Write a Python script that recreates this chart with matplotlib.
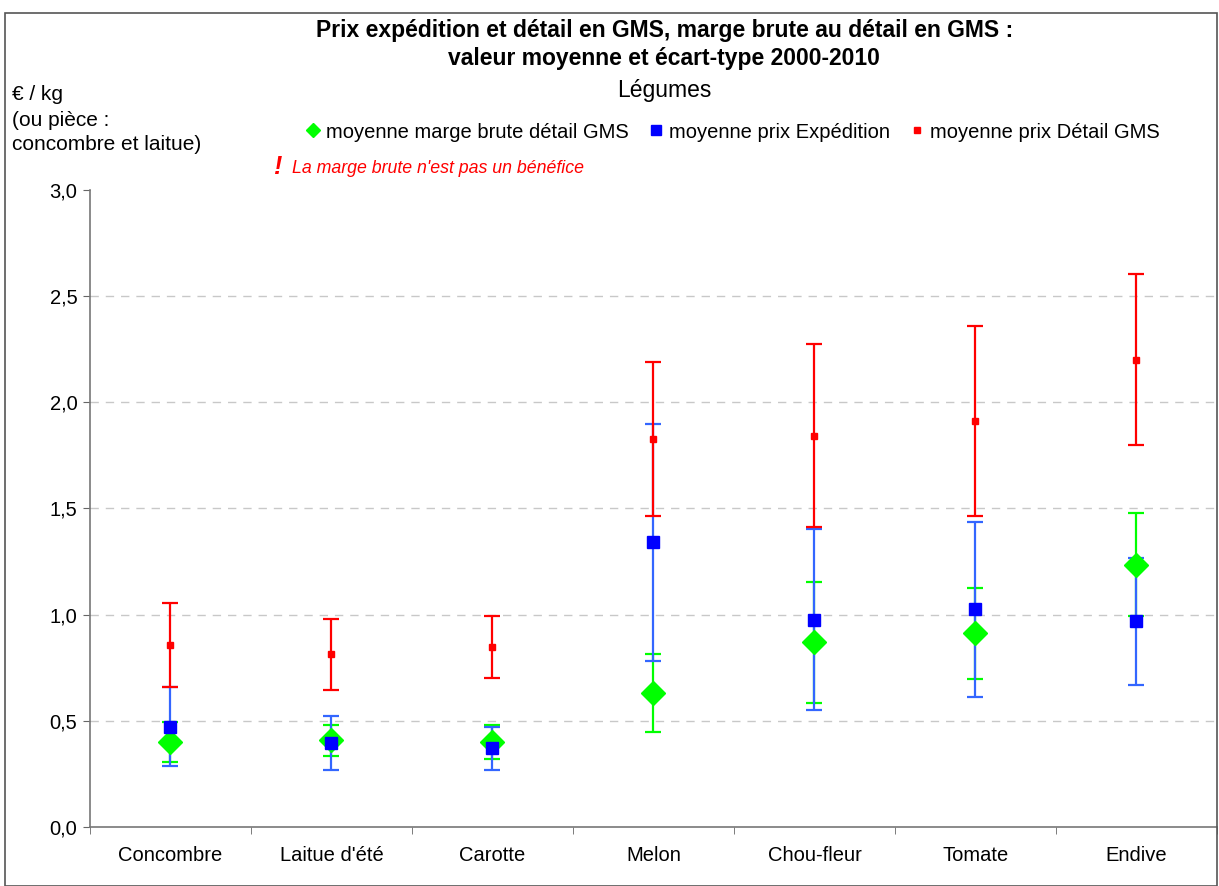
import matplotlib.pyplot as plt
from matplotlib.lines import Line2D
from matplotlib.patches import Rectangle
from matplotlib.ticker import FuncFormatter

plt.rcParams["font.family"] = ["Liberation Sans", "DejaVu Sans"]

legumes = ["Concombre", "Laitue d'été", "Carotte", "Melon", "Chou-fleur", "Tomate", "Endive"]

# moyenne et écart-type 2000-2010 (€/kg ou pièce)
detail_moy = [0.858, 0.813, 0.847, 1.827, 1.843, 1.912, 2.201]
detail_et = [0.197, 0.168, 0.145, 0.362, 0.431, 0.448, 0.401]
exped_moy = [0.473, 0.396, 0.370, 1.342, 0.975, 1.025, 0.968]
exped_et = [0.187, 0.128, 0.103, 0.558, 0.426, 0.413, 0.301]
marge_moy = [0.400, 0.408, 0.400, 0.629, 0.869, 0.912, 1.236]
marge_et = [0.095, 0.072, 0.080, 0.184, 0.285, 0.213, 0.243]

yticks = [0.0, 0.5, 1.0, 1.5, 2.0, 2.5, 3.0]

RED = "#ff0000"
BLUE = "#0000ff"
BLUE_BAR = "#3366ff"
GREEN = "#00ff00"

fig = plt.figure(figsize=(12.19, 8.86), dpi=100)
fig.patches.append(Rectangle((0.004, 0.0), 0.994, 0.985, transform=fig.transFigure,
                             fill=False, edgecolor="#555555", linewidth=1.2))
ax = fig.add_axes([0.0738, 0.0666, 0.9245, 0.719])

x = list(range(len(legumes)))

# green under blue under red
ax.errorbar(x, marge_moy, yerr=marge_et, fmt="none", ecolor=GREEN, elinewidth=1.6,
            capsize=5.5, capthick=1.6, zorder=2)
ax.errorbar(x, exped_moy, yerr=exped_et, fmt="none", ecolor=BLUE_BAR, elinewidth=1.6,
            capsize=5.5, capthick=1.6, zorder=2.2)
ax.errorbar(x, detail_moy, yerr=detail_et, fmt="none", ecolor=RED, elinewidth=1.6,
            capsize=5.5, capthick=1.6, zorder=2.4)
ax.plot(x, marge_moy, linestyle="none", marker="D", markersize=12, color=GREEN, zorder=3)
ax.plot(x, exped_moy, linestyle="none", marker="s", markersize=8.5, color=BLUE, zorder=4)
ax.plot(x, detail_moy, linestyle="none", marker="s", markersize=5, color=RED, zorder=5)

ax.set_xlim(-0.5, len(legumes) - 0.5)
ax.set_ylim(0, 3.0)
ax.set_yticks(yticks)
ax.yaxis.set_major_formatter(FuncFormatter(lambda v, _: f"{v:.1f}".replace(".", ",")))
ax.set_xticks(x)
ax.set_xticklabels(legumes)
ax.set_xticks([i - 0.5 for i in range(len(legumes) + 1)], minor=True)
ax.tick_params(axis="x", which="major", length=0, pad=14, labelsize=14.5)
ax.tick_params(axis="x", which="minor", length=5, color="#666666")
ax.tick_params(axis="y", length=5, color="#666666", labelsize=14.5, pad=4)

for v in yticks[1:-1]:
    ax.axhline(v, color="#c8c8c8", linestyle=(0, (6, 5)), linewidth=1, zorder=1)

for side in ("top", "right"):
    ax.spines[side].set_visible(False)
for side in ("left", "bottom"):
    ax.spines[side].set_color("#777777")
    ax.spines[side].set_linewidth(1.2)

fig.text(0.545, 1 - 31 / 886, "Prix expédition et détail en GMS, marge brute au détail en GMS :",
         ha="center", va="center", fontsize=16.5, fontweight="bold")
fig.text(0.545, 1 - 59 / 886, "valeur moyenne et écart-type 2000-2010",
         ha="center", va="center", fontsize=16.5, fontweight="bold")
fig.text(0.545, 1 - 90 / 886, "Légumes", ha="center", va="center", fontsize=16.5)

fig.text(12 / 1219, 1 - 95 / 886, "€ / kg", ha="left", va="center", fontsize=15)
fig.text(12 / 1219, 1 - 120 / 886, "(ou pièce :", ha="left", va="center", fontsize=15)
fig.text(12 / 1219, 1 - 145 / 886, "concombre et laitue)", ha="left", va="center", fontsize=15)

fig.text(273 / 1219, 1 - 167 / 886, "!", ha="left", va="center", fontsize=18,
         color=RED, fontweight="bold", style="italic")
fig.text(292 / 1219, 1 - 168 / 886, "La marge brute n'est pas un bénéfice", ha="left",
         va="center", fontsize=12.8, color=RED, style="italic")

handles = [
    Line2D([], [], linestyle="none", marker="D", markersize=7, color=GREEN),
    Line2D([], [], linestyle="none", marker="s", markersize=7, color=BLUE),
    Line2D([], [], linestyle="none", marker="s", markersize=5, color=RED),
]
labels = ["moyenne marge brute détail GMS", "moyenne prix Expédition", "moyenne prix Détail GMS"]
fig.legend(handles, labels, loc="center", bbox_to_anchor=(733 / 1219, 1 - 132 / 886),
           ncol=3, frameon=False, fontsize=14.5, handlelength=0.7, handletextpad=0.3,
           columnspacing=1.0)

plt.savefig("out.png")
